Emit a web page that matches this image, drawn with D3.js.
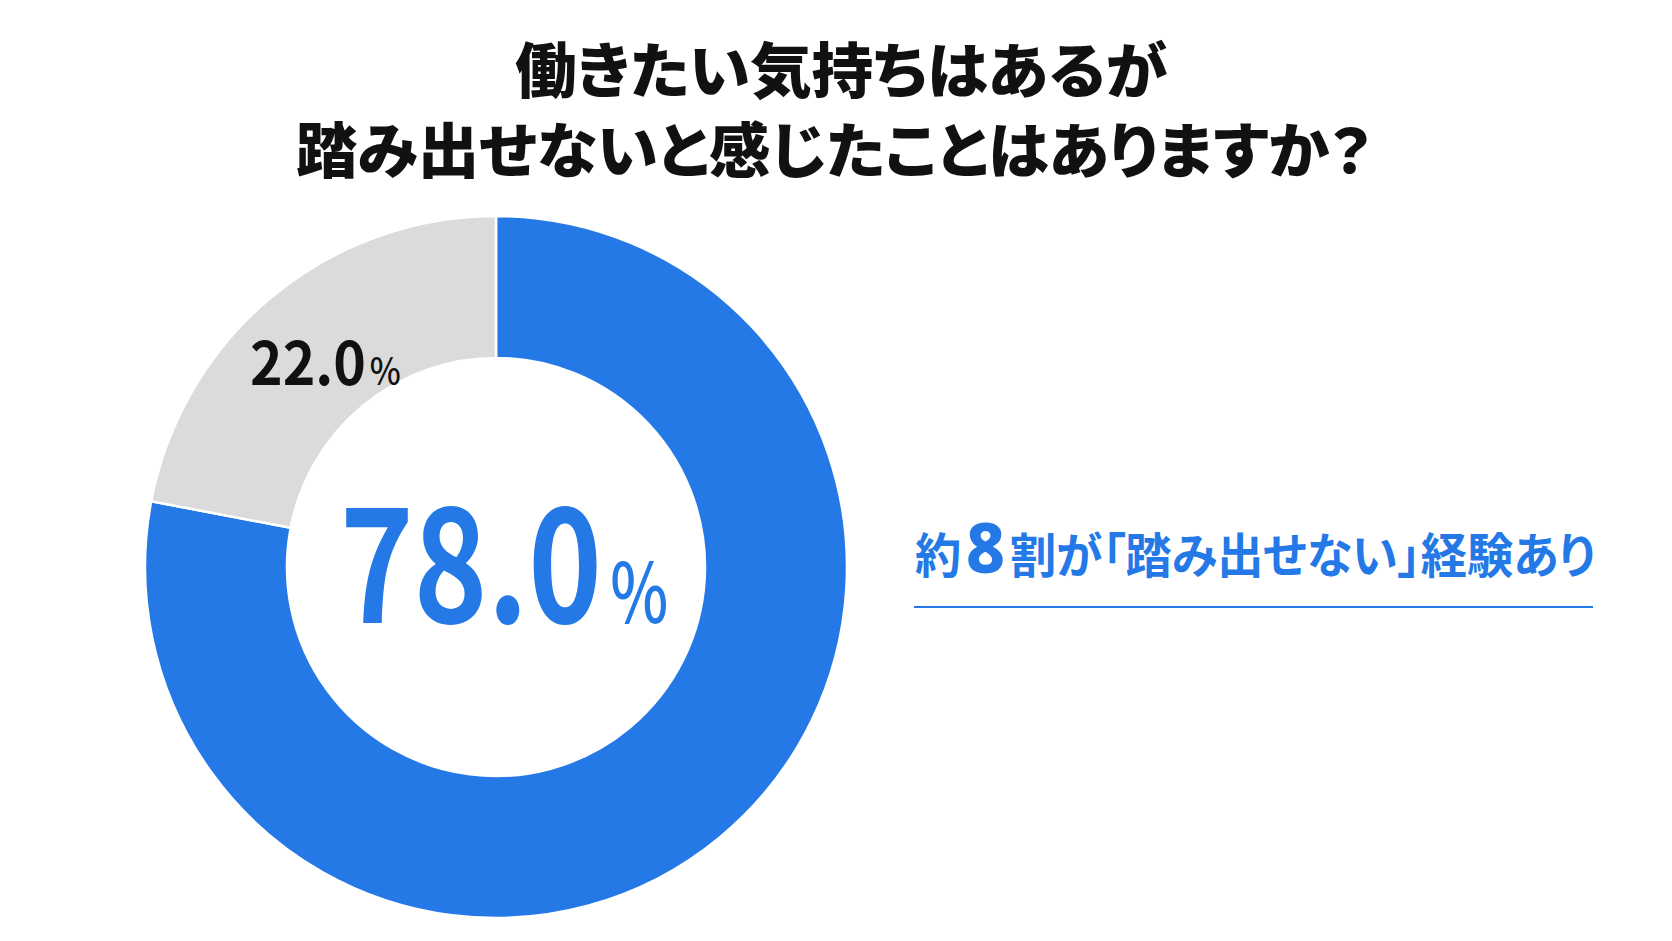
<!DOCTYPE html>
<html lang="ja">
<head>
    <meta charset="UTF-8">
    <title>踏み出せない経験 ドーナツチャート</title>
    <script src="https://d3js.org/d3.v7.min.js"></script>
    <style>
        html, body {
            margin: 0;
            padding: 0;
            background: #fff;
            overflow: hidden;
        }
        text {
            font-family: "Noto Sans CJK JP", "Noto Sans", sans-serif;
        }
        .jp {
            font-feature-settings: "palt" 1;
        }
    </style>
</head>
<body>
    <svg id="chart" width="1672" height="941"></svg>
    <script>
        // data
        const categories = ["ある", "ない"];
        const shares = [78.0, 22.0];
        const titleLines = ["働きたい気持ちはあるが", "踏み出せないと感じたことはありますか？"];
        const calloutParts = ["約", "8", "割が「踏み出せない」経験あり"];

        const svg = d3.select("#chart");

        const blue = "#2479e6";
        const color = d3.scaleOrdinal()
            .domain(categories)
            .range([blue, "#dbdbdb"]);

        // squeeze/stretch a text horizontally so it is w px wide, anchored at (x, y)
        function fitWidth(sel, x, y, w) {
            sel.attr("x", 0).attr("y", 0);
            const natural = sel.node().getComputedTextLength();
            sel.attr("transform", `translate(${x},${y}) scale(${w / natural},1)`);
            return sel;
        }

        // title
        const titleX = [841, 834];
        const titleW = [652, 1076];
        titleLines.forEach((line, i) => {
            const t = svg.append("text")
                .attr("class", "jp")
                .attr("text-anchor", "middle")
                .attr("font-size", 60)
                .attr("font-weight", 900)
                .attr("fill", "#111")
                .text(line);
            fitWidth(t, titleX[i], 93 + i * 80, titleW[i]);
        });

        // donut
        const cx = 496, cy = 567, outerR = 351, innerR = 209;
        const pie = d3.pie().sort(null).value(d => d.value);
        const arcs = pie(categories.map((c, i) => ({ name: c, value: shares[i] })));
        const arc = d3.arc().innerRadius(innerR).outerRadius(outerR);

        const g = svg.append("g").attr("transform", `translate(${cx},${cy})`);
        g.selectAll("path")
            .data(arcs)
            .join("path")
            .attr("d", arc)
            .attr("fill", d => color(d.data.name))
            .attr("stroke", "#fff")
            .attr("stroke-width", 2.5);

        // number + small percent sign, as two separate texts
        function pctLabel(x, y, value, numSize, numW, pctSize, pctW, fill) {
            const num = g.append("text")
                .attr("fill", fill)
                .attr("font-family", "'Noto Sans', 'Open Sans', sans-serif")
                .attr("font-weight", 700)
                .attr("font-size", numSize)
                .text(value.toFixed(1));
            fitWidth(num, x, y, numW);
            const pct = g.append("text")
                .attr("fill", fill)
                .attr("font-family", "'Noto Sans', 'Open Sans', sans-serif")
                .attr("font-weight", 500)
                .attr("font-size", pctSize)
                .text("%");
            fitWidth(pct, x + numW + pctSize * 0.1, y, pctW);
        }
        pctLabel(-156, 56, shares[0], 155, 262, 82, 58, blue);
        pctLabel(-246, -182, shares[1], 60, 116, 38, 31, "#111");

        // callout on the right
        const callout = svg.append("text")
            .attr("class", "jp")
            .attr("fill", blue)
            .attr("font-weight", 700);
        callout.selectAll("tspan")
            .data(calloutParts)
            .join("tspan")
            .attr("font-size", (d, i) => i === 1 ? 70 : 48)
            .attr("font-weight", (d, i) => i === 1 ? 800 : 700)
            .attr("font-family", (d, i) => i === 1 ? "'Noto Sans', sans-serif" : null)
            .attr("dx", (d, i) => i === 0 ? 0 : 5)
            .text(d => d);
        fitWidth(callout, 915, 573, 671);

        svg.append("line")
            .attr("x1", 914)
            .attr("x2", 1593)
            .attr("y1", 607)
            .attr("y2", 607)
            .attr("stroke", blue)
            .attr("stroke-width", 2);
    </script>
</body>
</html>
